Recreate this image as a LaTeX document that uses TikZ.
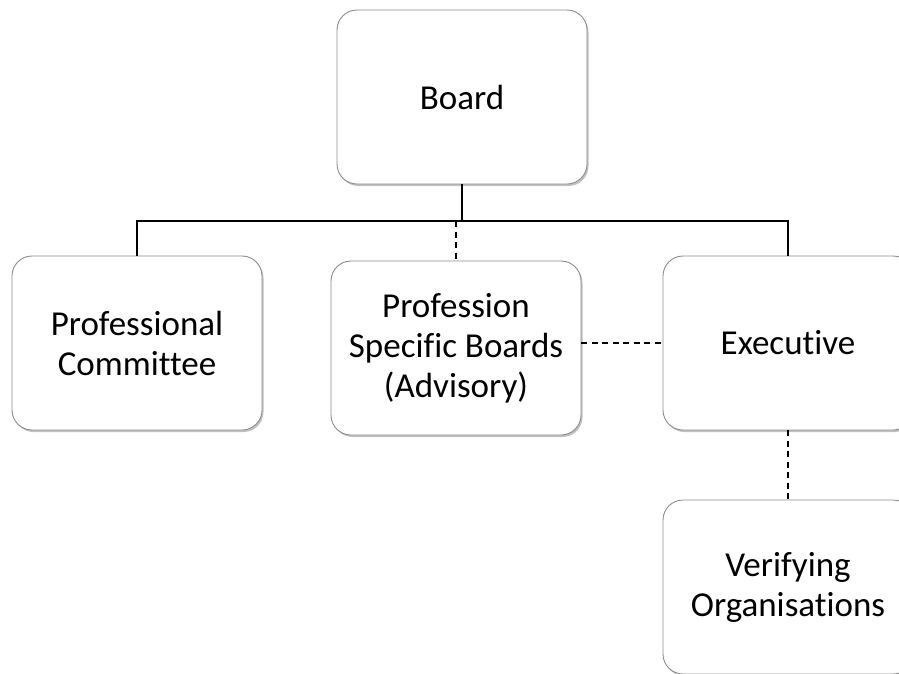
\documentclass[tikz,border=0pt]{standalone}
\usepackage{fontspec}
\setmainfont{Carlito}[Ligatures=NoCommon]
\usepackage{tikz}
\usetikzlibrary{shadows}
\usetikzlibrary{positioning}
\usetikzlibrary{calc}
\tikzstyle{unit}=[rectangle,rounded corners=20pt,draw=black!45,line width=0.9pt,fill=white,minimum width=250pt,minimum height=174pt,align=center,font=\fontsize{35}{40}\selectfont,drop shadow={shadow xshift=1.5pt,shadow yshift=-2pt,fill=black!30,opacity=0.8}]
\tikzstyle{edge} = [draw,line width=2.9pt]
\tikzstyle{dashededge} = [draw,line width=1.3pt,dash pattern=on 6pt off 4.5pt]

\begin{document}
\begin{tikzpicture}[x=1pt,y=-1pt]

  \clip (0,0) rectangle (899,673);
  \fill[white] (0,0) rectangle (899,673);

   \foreach \x/\y/\name/\label in {462/97/board/{Board}, 137/343/profcom/{Professional\\Committee}, 456/348/psb/{Profession\\Specific Boards\\(Advisory)}, 788/343/exec/{Executive}, 788/587/verif/{Verifying\\Organisations}}
          \node[unit] (\name) at (\x, \y) {\label};

   \coordinate (bar) at (462, 221);

  % tree lines from the board
   \path[edge] (board.south) -- (bar);
   \path[edge] (bar) -| (profcom.north);
   \path[edge] (bar) -| (exec.north);

  % advisory links
   \path[dashededge] (bar -| psb.north) -- (psb.north);
   \path[dashededge] (psb.east |- exec.west) -- (exec.west);
   \path[dashededge] (exec.south) -- (verif.north);

\end{tikzpicture}
\end{document}
